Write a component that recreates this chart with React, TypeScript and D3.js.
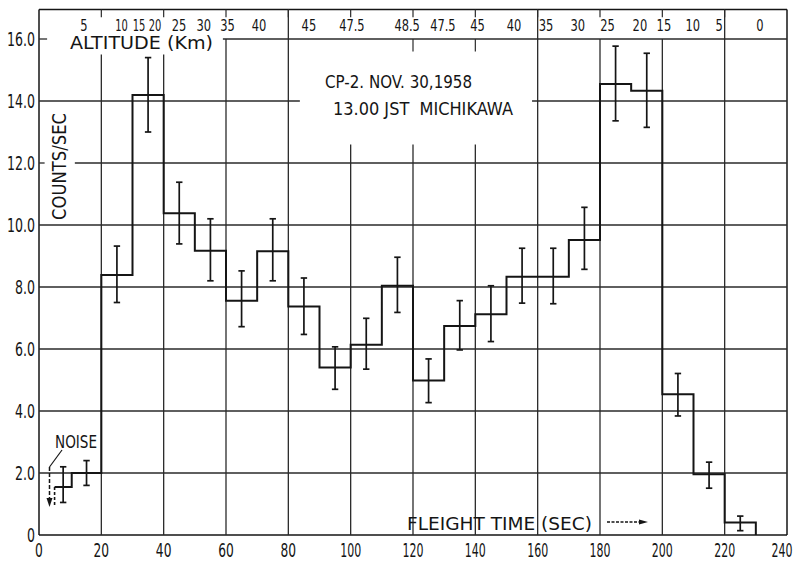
import React from "react";
import * as d3 from "d3";

// ---- data ----
const binEdges = [5, 10.5, 20, 30, 40, 50, 60, 70, 80, 90, 100, 110, 120, 130, 140, 150, 160, 170, 180, 190, 200, 210, 220, 230];
const counts = [1.55, 2.0, 8.39, 14.19, 10.38, 9.17, 7.56, 9.15, 7.37, 5.4, 6.14, 8.04, 4.98, 6.74, 7.12, 8.33, 8.33, 9.52, 14.55, 14.33, 4.54, 1.96, 0.4];
const errHigh = [2.2, 2.4, 9.32, 15.4, 11.38, 10.2, 8.52, 10.2, 8.29, 6.07, 6.99, 8.96, 5.68, 7.56, 8.04, 9.25, 9.25, 10.57, 15.77, 15.54, 5.21, 2.35, 0.61];
const errLow = [1.05, 1.6, 7.5, 13.0, 9.39, 8.2, 6.72, 8.2, 6.47, 4.7, 5.35, 7.18, 4.27, 5.97, 6.24, 7.48, 7.46, 8.57, 13.36, 13.15, 3.84, 1.51, 0.14];

const xTicks = [0, 20, 40, 60, 80, 100, 120, 140, 160, 180, 200, 220, 240];
const yTicks = [0, 2, 4, 6, 8, 10, 12, 14, 16];
const yTickLabels = ["0", "2.0", "4.0", "6.0", "8.0", "10.0", "12.0", "14.0", "16.0"];

const altLabels = ["5", "10", "15", "20", "25", "30", "35", "40", "45", "47.5", "48.5", "47.5", "45", "40", "35", "30", "25", "20", "15", "10", "5", "0"];
const altTimes = [14.4, 26.5, 32.1, 37.2, 44.9, 52.9, 60.5, 70.6, 86.6, 100.4, 118.1, 129.6, 140.7, 152.4, 162.7, 172.9, 182.4, 192.8, 200.5, 209.8, 218.2, 231.3];

const noiseStart = 0.97;

// ---- layout ----
const W = 800, H = 565;
const TOP = 16.95;
const x = d3.scaleLinear().domain([0, 240]).range([39, 787]);
const y = d3.scaleLinear().domain([0, 16]).range([535, 39]);

// top end (in counts) of each interior vertical grid line (t = 20..220)
const vTop: Record<number, number> = { 20: 15.5, 40: 15.5, 60: 16, 80: TOP, 100: 12.6, 120: 12.6, 140: 12.6, 160: TOP, 180: 16, 200: 16, 220: TOP };

const INK = "#151515";
const GRID = "#2a2a2a";
const FONT = "'DejaVu Sans', 'Liberation Sans', sans-serif";

function numLen(s: string, digit: number, dot: number) {
  let l = 0;
  for (const c of s) l += c === "." ? dot : digit;
  return l;
}

export default function App() {
  const pts: [number, number][] = counts.map((c, i) => [binEdges[i], c]);
  pts.push([binEdges[binEdges.length - 1], 0]);
  const step = d3
    .line<[number, number]>()
    .x((d) => x(d[0]))
    .y((d) => y(d[1]))
    .curve(d3.curveStepAfter)(pts) as string;

  const centers = counts.map((_, i) => (binEdges[i] + binEdges[i + 1]) / 2);

  // horizontal grid segments [value, fromT, toT]
  const hSegs: [number, number, number][] = [];
  yTicks.forEach((v) => {
    if (v === 0 || v === 16) return;
    if (v === 14) {
      hSegs.push([v, 0, 83.7]);
      hSegs.push([v, 158.2, 240]);
    } else if (v === 12) {
      hSegs.push([v, 0, 1.8]);
      hSegs.push([v, 11.5, 240]);
    } else hSegs.push([v, 0, 240]);
  });
  hSegs.push([16, 0, 2.6]);
  hSegs.push([16, 59, 240]);

  const cap = 3.2;

  return (
    <svg width={W} height={H} style={{ position: "absolute", left: 0, top: 0, background: "#fff" }} fontFamily={FONT}>
      <rect x={0} y={0} width={W} height={H} fill="#fff" />
      {/* frame */}
      <line x1={x(0)} x2={x(0)} y1={y(0)} y2={y(TOP)} stroke={INK} strokeWidth={1.5} />
      <line x1={x(240)} x2={x(240)} y1={y(0)} y2={y(TOP)} stroke={INK} strokeWidth={1.5} />
      <line x1={x(0)} x2={x(240)} y1={y(0)} y2={y(0)} stroke={INK} strokeWidth={1.5} />
      <line x1={x(0)} x2={x(240)} y1={y(TOP)} y2={y(TOP)} stroke={INK} strokeWidth={1.5} />

      {/* horizontal grid */}
      {hSegs.map(([v, a, b], i) => (
        <line key={"h" + i} x1={x(a)} x2={x(b)} y1={y(v)} y2={y(v)} stroke={GRID} strokeWidth={1.3} />
      ))}
      {/* vertical grid */}
      {xTicks.slice(1, -1).map((t) => (
        <g key={"v" + t}>
          <line x1={x(t)} x2={x(t)} y1={y(0)} y2={y(vTop[t])} stroke={GRID} strokeWidth={1.3} />
          <line x1={x(t)} x2={x(t)} y1={y(TOP)} y2={y(16.7)} stroke={GRID} strokeWidth={1.2} />
        </g>
      ))}
      {[120, 140].map((t) => (
        <line key={"s" + t} x1={x(t)} x2={x(t)} y1={y(16)} y2={y(15.6)} stroke={GRID} strokeWidth={1.2} />
      ))}

      {/* step histogram */}
      <path d={step} fill="none" stroke={INK} strokeWidth={2} />
      <line x1={x(binEdges[0])} x2={x(binEdges[0])} y1={y(counts[0])} y2={y(noiseStart)} stroke={INK} strokeWidth={1.6} strokeDasharray="3,2" />

      {/* error bars */}
      {centers.map((c, i) => (
        <g key={"e" + i} stroke={INK} strokeWidth={1.7}>
          <line x1={x(c)} x2={x(c)} y1={y(errLow[i])} y2={y(errHigh[i])} />
          <line x1={x(c) - cap} x2={x(c) + cap} y1={y(errLow[i])} y2={y(errLow[i])} />
          <line x1={x(c) - cap} x2={x(c) + cap} y1={y(errHigh[i])} y2={y(errHigh[i])} />
        </g>
      ))}

      {/* y tick labels */}
      {yTicks.map((v, i) => (
        <text key={"yl" + i} x={35} y={y(v) + 7} textAnchor="end" fontSize={19} fill={INK}
          textLength={numLen(yTickLabels[i], 8, 4)} lengthAdjust="spacingAndGlyphs">
          {yTickLabels[i]}
        </text>
      ))}
      {/* x tick labels */}
      {xTicks.map((t, i) => (
        <text key={"xl" + t} x={i === xTicks.length - 1 ? x(t) - 5 : x(t)} y={557} textAnchor="middle" fontSize={19} fill={INK}
          textLength={numLen(String(t), t >= 100 ? 7 : 7.8, 4)} lengthAdjust="spacingAndGlyphs">
          {t}
        </text>
      ))}
      {/* altitude labels */}
      {altLabels.map((s, i) => (
        <text key={"al" + i} x={x(altTimes[i])} y={30.5} textAnchor="middle" fontSize={16} fill={INK}
          textLength={numLen(s, i >= 1 && i <= 3 ? 6.3 : 7.3, 3.5)} lengthAdjust="spacingAndGlyphs">
          {s}
        </text>
      ))}

      {/* annotations */}
      <text x={70} y={48.5} fontSize={17} fill={INK} textLength={143} lengthAdjust="spacingAndGlyphs">ALTITUDE (Km)</text>
      <text x={325} y={88} fontSize={17} fill={INK} textLength={147} lengthAdjust="spacingAndGlyphs">CP-2. NOV. 30,1958</text>
      <text x={333} y={115} fontSize={17} fill={INK} textLength={180} lengthAdjust="spacingAndGlyphs" style={{ whiteSpace: "pre" }}>13.00 JST  MICHIKAWA</text>
      <text transform="translate(66,220) rotate(-90)" fontSize={19} fill={INK} textLength={107} lengthAdjust="spacingAndGlyphs">COUNTS/SEC</text>
      <text x={55} y={448} fontSize={17} fill={INK} textLength={42} lengthAdjust="spacingAndGlyphs">NOISE</text>
      <text x={407} y={530} fontSize={18} fill={INK} textLength={185} lengthAdjust="spacingAndGlyphs">FLEIGHT TIME (SEC)</text>

      {/* noise leader + arrow */}
      <line x1={62} y1={450} x2={49.5} y2={467} stroke={INK} strokeWidth={1.2} />
      <line x1={49.5} y1={467} x2={49.5} y2={500} stroke={INK} strokeWidth={1.5} strokeDasharray="4,2" />
      <path d="M46.5,498 L49.5,507 L52.5,498 Z" fill={INK} />

      {/* flight-time arrow */}
      <line x1={607} y1={522} x2={640} y2={522} stroke={INK} strokeWidth={1.3} strokeDasharray="3,1.5" />
      <path d="M639,519.5 L648,522 L639,524.5 Z" fill={INK} />
    </svg>
  );
}
